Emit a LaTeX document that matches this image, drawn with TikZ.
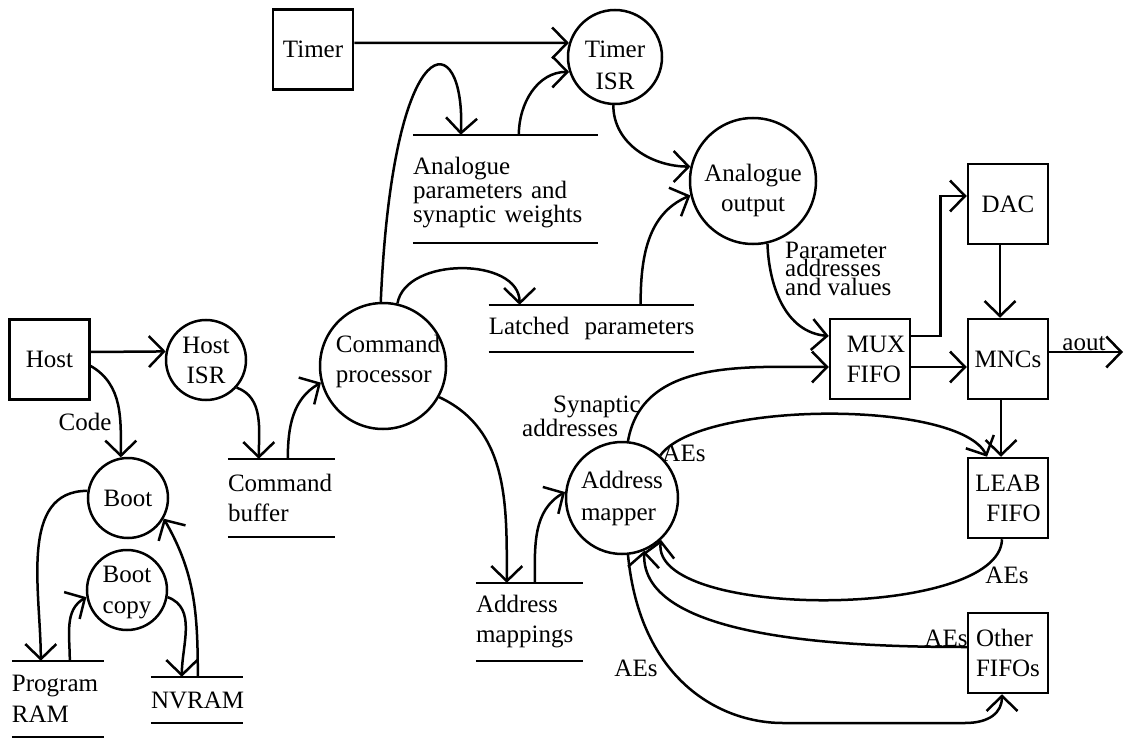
\documentclass[tikz,border=0pt]{standalone}
\usepackage{fontspec}
\setmainfont{Liberation Serif}
\usetikzlibrary{arrows.meta}

\begin{document}
\begin{tikzpicture}[x=1pt,y=-1pt,
  every node/.style={font=\fontsize{25}{30}\selectfont, inner sep=0pt},
  ext/.style={draw, line width=2.5pt, rectangle, minimum width=80pt, minimum height=80pt},
  proc/.style={draw, line width=2.5pt, circle},
  store/.style={rectangle, align=left},
  lbl/.style={align=left},
  flow/.style={line width=2.5pt, -{Straight Barb[length=15pt,width=31pt]}},
  wire/.style={line width=2.5pt},
]
\useasboundingbox (0,0) rectangle (1124,738);

% external entities
\node[ext] (host) at (49.5,359.5) {Host};
\node[ext] (timer) at (313,49.5) {Timer};
\node[ext] (dac) at (1008,204) {DAC};
\node[ext, label={[lbl,xshift=6pt]center:MUX\\FIFO}] (mux) at (870,359) {};
\node[ext] (mncs) at (1008,359) {MNCs};
\node[ext, align=right] (leab) at (1008,498) {LEAB\\FIFO};
\node[ext, align=left] (other) at (1008,653) {Other\\FIFOs};

% processes
\node[proc, minimum size=80pt, align=center] (hostisr) at (206,360) {Host\\ISR};
\node[proc, minimum size=80pt] (boot) at (128,498) {Boot};
\node[proc, minimum size=80pt, label={[align=center,yshift=-3pt,font=\fontsize{25}{31}\selectfont]center:Boot\\copy}] (bootcopy) at (127,590) {};
\node[proc, minimum size=126pt, label={[lbl,xshift=5pt,yshift=5pt]center:Command\\processor}] (cproc) at (383,366) {};
\node[proc, minimum size=94pt, label={[align=center,yshift=-8pt,font=\fontsize{25}{32}\selectfont]center:Timer\\ISR}] (timerisr) at (615,57) {};
\node[proc, minimum size=126pt, label={[align=center,yshift=-9pt]center:Analogue\\output}] (anout) at (753,181) {};
\node[proc, minimum size=112pt, align=left, font=\fontsize{25}{32}\selectfont] (addrmap) at (622,498) {Address\\mapper};

% data stores
\node[store, text width=92pt, minimum height=76pt, font=\fontsize{25}{31}\selectfont] (pram) at (58,699) {Program\\RAM};
\node[store, text width=92pt, minimum height=46pt] (nvram) at (197,700) {NVRAM};
\node[store, text width=107pt, minimum height=78pt] (cbuf) at (281.5,498) {Command\\buffer};
\node[store, minimum width=201pt, minimum height=47pt] (latched) at (591.5,328.5) {Latched\hspace{0.36em} parameters};
\node[store, text width=185pt, minimum height=108pt, font=\fontsize{25}{24}\selectfont, text height=25pt] (apar) at (505.5,189) {Analogue\\parameters and\\synaptic weights};
\node[store, text width=107pt, minimum height=78pt] (amap) at (529.5,622) {Address\\mappings};
\foreach \s in {pram,nvram,cbuf,latched,apar,amap}
  \draw[wire] (\s.north west) -- (\s.north east) (\s.south west) -- (\s.south east);

% host and boot flows
\draw[flow] ([yshift=7.5pt]host.east) -- (hostisr.168);
\draw[flow] ([yshift=-6.5pt]host.east) to[out=-30,in=90] (boot.100);
\node (code) at (85,422) {Code};
\draw[flow] (boot.170) to[out=180,in=90] ([xshift=29pt]pram.north west);
\draw[flow] ([xshift=58pt]pram.north west) to[out=90,in=210] (bootcopy.190);
\draw[flow] (bootcopy.-10) to[out=-20,in=90] ([xshift=31pt]nvram.north west);
\draw[flow] ([xshift=47pt]nvram.north west) to[out=90,in=-60] (boot.-30);
\draw[flow] (hostisr.-42) to[out=-20,in=90] ([xshift=31pt]cbuf.north west);
\draw[flow] ([xshift=60pt]cbuf.north west) to[out=90,in=210] (cproc.195);

% command processor flows
\draw[flow] (cproc.77) to[out=80,in=90] ([xshift=31pt]latched.north west);
\draw[flow] (cproc.92) .. controls (393,20) and (466,25) .. ([xshift=48pt]apar.north west);
\draw[flow] (cproc.-29) to[out=-25,in=90] ([xshift=31pt]amap.north west);
\draw[flow] ([xshift=59pt]amap.north west) to[out=90,in=210] (addrmap.174);

% timer and analogue output
\draw[flow] ([yshift=6.5pt]timer.east) -- (timerisr.163);
\draw[flow] ([xshift=106pt]apar.north west) to[out=90,in=180] (timerisr.198);
\draw[flow] (timerisr.-92) to[out=-90,in=180] (anout.167);
\draw[flow] ([xshift=152pt]latched.north west) to[out=90,in=203] (anout.193);
\draw[flow] (anout.-77) to[out=-88,in=175] ([yshift=23pt]mux.west);
\node[lbl, font=\fontsize{25}{15.5}\selectfont, anchor=north west] (parlbl) at (785,241.5) {Parameter\\addresses\\and values};

% multiplexer, DAC and MNCs
\draw[flow] ([yshift=23pt]mux.east) -- ++(29,0) |- ([yshift=8pt]dac.west);
\draw[flow] ([xshift=-8pt]dac.south) -- ([xshift=-8pt]mncs.north);
\draw[flow] ([yshift=-8pt]mux.east) -- ([yshift=-8pt]mncs.west);
\coordinate (aoutend) at (1123,352);
\draw[flow] ([yshift=7pt]mncs.east) -- (aoutend);
\node[anchor=base] (aout) at (1084,350) {aout};

% address mapper flows
\draw[flow] (addrmap.84) to[out=80,in=180] ([yshift=-8pt]mux.west);
\node[lbl, font=\fontsize{25}{15}\selectfont, anchor=north west] (synlbl) at (522,396) {\hspace*{31pt}Synaptic\\addresses};
\draw[flow] (addrmap.48) .. controls (700,400) and (960,400) .. ([xshift=-21pt]leab.north);
\node (aes1) at (684,453) {AEs};
\draw[flow] ([xshift=-7pt]mncs.south) -- ([xshift=-7pt]leab.north);
\draw[flow] ([xshift=-6pt]leab.south) .. controls (1000,620) and (650,620) .. (addrmap.-47);
\node (aes2) at (1007,575) {AEs};
\draw[flow] ([yshift=6pt]other.west) .. controls (850,647) and (640,640) .. (addrmap.-67);
\node (aes3) at (946,638) {AEs};
\draw[flow] (addrmap.-84) .. controls (640,680) and (720,723) .. (783,723) -- (965,723) .. controls (990,723) and (1002,712) .. ([xshift=-6pt]other.south);
\node (aes4) at (636,668) {AEs};
\end{tikzpicture}
\end{document}
